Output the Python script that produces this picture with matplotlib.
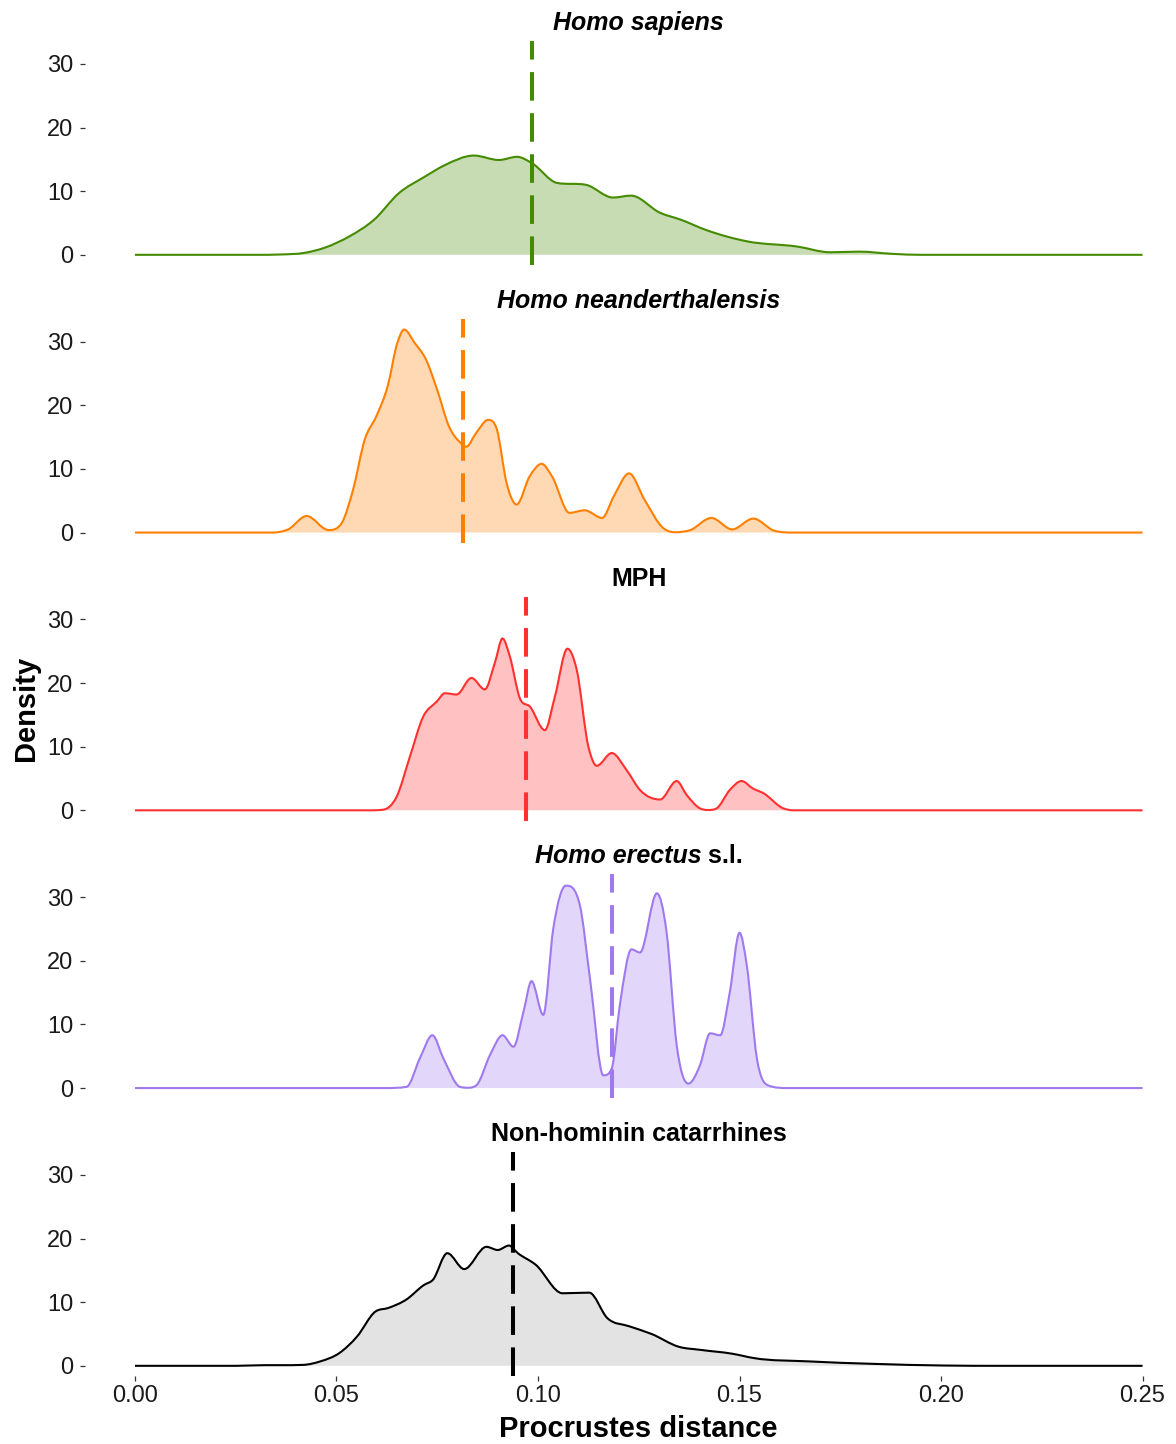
import matplotlib
matplotlib.use('Agg')
import matplotlib.pyplot as plt
from matplotlib.path import Path
from matplotlib.patches import PathPatch
import numpy as np

plt.rcParams['font.family'] = ['Liberation Sans', 'DejaVu Sans']

# density curves (Procrustes distance -> density), one pair of lists per group
sap_x = [0.000, 0.030, 0.036, 0.042, 0.047, 0.0532, 0.0593, 0.0655, 0.0717, 0.0769, 0.0841,
         0.0903, 0.0948, 0.0985, 0.1047, 0.1119, 0.1186, 0.1231, 0.1303, 0.1355, 0.1417,
         0.152, 0.1643, 0.1725, 0.1797, 0.188, 0.195, 0.250]
sap_y = [0, 0, 0.05, 0.3, 1.1, 2.9, 5.5, 9.7, 12.2, 14.1, 15.6,
         14.9, 15.4, 14.4, 11.3, 11.0, 9.0, 9.3, 6.6, 5.5, 3.9,
         2.1, 1.3, 0.4, 0.5, 0.15, 0, 0]

nea_x = [0.000, 0.034, 0.038, 0.0426, 0.048, 0.0513, 0.0541, 0.057, 0.0599, 0.0627, 0.0651,
         0.0668, 0.0694, 0.0722, 0.075, 0.0779, 0.0808, 0.0822, 0.0846, 0.0876, 0.0898,
         0.0922, 0.0947, 0.0979, 0.1009, 0.1035, 0.1078, 0.1116, 0.1159, 0.1188, 0.1226,
         0.1264, 0.1311, 0.134, 0.1378, 0.143, 0.1482, 0.1534, 0.1586, 0.1634, 0.250]
nea_y = [0, 0, 0.5, 2.6, 0.4, 1.5, 6.7, 14.6, 18.3, 23.0, 29.8,
         31.9, 29.8, 27.2, 22.4, 16.7, 14.1, 13.5, 15.6, 17.7, 16.2,
         7.8, 4.4, 8.8, 10.8, 8.8, 3.1, 3.5, 2.3, 5.7, 9.3,
         5.2, 0.7, 0.05, 0.4, 2.3, 0.5, 2.2, 0.3, 0, 0]

mph_x = [0.000, 0.058, 0.0616, 0.0649, 0.0682, 0.0715, 0.0749, 0.0769, 0.0798, 0.0835, 0.0868,
         0.0893, 0.0912, 0.093, 0.0955, 0.098, 0.1017, 0.1042, 0.1073, 0.1096, 0.1125,
         0.1146, 0.1183, 0.122, 0.1253, 0.1303, 0.1344, 0.1369, 0.1402, 0.1422, 0.1443,
         0.1476, 0.1505, 0.1534, 0.1559, 0.1609, 0.1633, 0.250]
mph_y = [0, 0, 0.1, 2.1, 8.4, 14.7, 17.1, 18.4, 18.2, 20.8, 19.0,
         23.2, 27.0, 24.2, 17.6, 16.3, 12.6, 17.9, 25.4, 22.1, 10.0,
         7.0, 9.0, 6.3, 3.2, 1.7, 4.6, 2.4, 0.3, 0.05, 0.3,
         3.2, 4.6, 3.4, 2.7, 0.3, 0, 0]

ere_x = [0.000, 0.062, 0.0674, 0.0707, 0.0738, 0.0765, 0.0806, 0.0826, 0.0848, 0.0881, 0.0912,
         0.0939, 0.0964, 0.0984, 0.1013, 0.1038, 0.1069, 0.1104, 0.1129, 0.1162, 0.1183,
         0.1203, 0.1232, 0.1253, 0.1295, 0.1319, 0.1344, 0.1373, 0.1402, 0.1427, 0.1452,
         0.1476, 0.150, 0.1518, 0.1543, 0.1572, 0.162, 0.250]
ere_y = [0, 0, 0.2, 4.7, 8.3, 4.7, 0.2, 0.05, 0.5, 5.2, 8.3,
         6.5, 12.0, 16.8, 11.5, 25.1, 31.8, 28.7, 17.2, 2.0, 3.1,
         13.0, 21.8, 21.3, 30.6, 24.5, 6.8, 0.7, 3.6, 8.6, 8.3,
         15.1, 24.4, 19.3, 4.7, 0.4, 0, 0]

cat_x = [0.000, 0.025, 0.032, 0.036, 0.0418, 0.046, 0.0507, 0.0551, 0.0596, 0.0629, 0.0673,
         0.0717, 0.0739, 0.0775, 0.0817, 0.0872, 0.090, 0.0928, 0.095, 0.0994, 0.1061,
         0.1127, 0.1172, 0.1227, 0.1282, 0.1349, 0.1404, 0.1482, 0.1537, 0.167, 0.1836,
         0.2003, 0.215, 0.250]
cat_y = [0, 0, 0.1, 0.1, 0.15, 0.7, 2.0, 4.6, 8.5, 9.1, 10.4,
         12.7, 13.5, 17.7, 15.2, 18.7, 18.2, 18.9, 17.7, 15.9, 11.4,
         11.5, 7.5, 6.2, 5.0, 3.0, 2.5, 1.9, 1.2, 0.7, 0.3,
         0.05, 0, 0]

# group means (dashed lines)
means = [0.0984, 0.0813, 0.0970, 0.1184, 0.0938]

groups = [
    (sap_x, sap_y, '#458B00', '#C7DCB3'),
    (nea_x, nea_y, '#FF7F00', '#FFD9B3'),
    (mph_x, mph_y, '#FF3030', '#FFC1C1'),
    (ere_x, ere_y, '#9F79EE', '#E2D7FA'),
    (cat_x, cat_y, '#000000', '#E3E3E3'),
]
titles = [
    [('Homo sapiens', 'italic')],
    [('Homo neanderthalensis', 'italic')],
    [('MPH', 'normal')],
    [('Homo erectus', 'italic'), (' s.l.', 'normal')],
    [('Non-hominin catarrhines', 'normal')],
]


def density_path(x, y, closed=False):
    # cubic bezier through the points; slopes are 3-point estimates,
    # zero at local extrema and clamped so the curve doesn't overshoot
    x = np.asarray(x, float)
    y = np.asarray(y, float)
    h = np.diff(x)
    d = np.diff(y) / h
    m = np.zeros_like(y)
    for i in range(1, len(x) - 1):
        if d[i - 1] * d[i] > 0:
            s = (h[i] * d[i - 1] + h[i - 1] * d[i]) / (h[i - 1] + h[i])
            lim = 3 * min(abs(d[i - 1]), abs(d[i]))
            m[i] = np.sign(s) * min(abs(s), lim)
    verts = [(x[0], y[0])]
    codes = [Path.MOVETO]
    for i in range(len(x) - 1):
        verts += [(x[i] + h[i] / 3, y[i] + m[i] * h[i] / 3),
                  (x[i + 1] - h[i] / 3, y[i + 1] - m[i + 1] * h[i] / 3),
                  (x[i + 1], y[i + 1])]
        codes += [Path.CURVE4] * 3
    if closed:
        verts += [(x[-1], 0), (x[0], 0), (x[0], 0)]
        codes += [Path.LINETO, Path.LINETO, Path.CLOSEPOLY]
    return Path(verts, codes)


W, H = 1176, 1444
fig = plt.figure(figsize=(W / 100, H / 100), dpi=100)

left_px, top0, panel_h, step = 85, 41, 224, 277.75
axes = []
for i, (gx, gy, line_c, fill_c) in enumerate(groups):
    top = top0 + i * step
    ax = fig.add_axes([left_px / W, 1 - (top + panel_h) / H, 1 - left_px / W, panel_h / H])
    axes.append(ax)

    ax.add_patch(PathPatch(density_path(gx, gy, closed=True), facecolor=fill_c,
                           edgecolor='none', zorder=1))
    ax.add_patch(PathPatch(density_path(gx, gy), facecolor='none', edgecolor=line_c,
                           lw=1.5, zorder=2))
    ax.axvline(means[i], color=line_c, lw=2.9, linestyle=(0, (7.1, 3.1)),
               dash_capstyle='butt', zorder=3)

    ax.set_xlim(-0.0124, 0.2583)
    ax.set_ylim(-1.6, 33.6)
    ax.set_yticks([0, 10, 20, 30])
    ax.tick_params(axis='y', length=3.3, width=0.9, color='#333333', pad=5,
                   labelsize=17, labelcolor='#1a1a1a')
    for s in ax.spines.values():
        s.set_visible(False)
    if i < len(groups) - 1:
        ax.set_xticks([])
    else:
        ax.set_xticks([0.00, 0.05, 0.10, 0.15, 0.20, 0.25])
        ax.set_xticklabels(['0.00', '0.05', '0.10', '0.15', '0.20', '0.25'])
        ax.tick_params(axis='x', length=3.3, width=0.9, color='#333333', pad=3.5,
                       labelsize=17, labelcolor='#1a1a1a')

# panel titles, centred over the data range; mixed italic / upright parts
renderer = fig.canvas.get_renderer()
for ax, parts in zip(axes, titles):
    ty = 1 + 11 / panel_h
    pieces = [ax.text(0, ty, txt, transform=ax.transAxes, fontsize=18, fontweight='bold',
                      fontstyle=st, ha='left', va='baseline') for txt, st in parts]
    widths = [p.get_window_extent(renderer).width for p in pieces]
    cx = ax.transData.transform((0.125, 0))[0]
    x0 = cx - sum(widths) / 2
    for p, w in zip(pieces, widths):
        p.set_transform(matplotlib.transforms.blended_transform_factory(
            matplotlib.transforms.IdentityTransform(), ax.transAxes))
        p.set_x(x0)
        x0 += w

fig.text(26 / W, 1 - 708 / H, 'Density', rotation=90, ha='center', va='center',
         fontsize=21, fontweight='bold')
fig.text(638 / W, 1 - 1437 / H, 'Procrustes distance', ha='center', va='baseline',
         fontsize=21, fontweight='bold')

fig.savefig('out.png', dpi=100)
